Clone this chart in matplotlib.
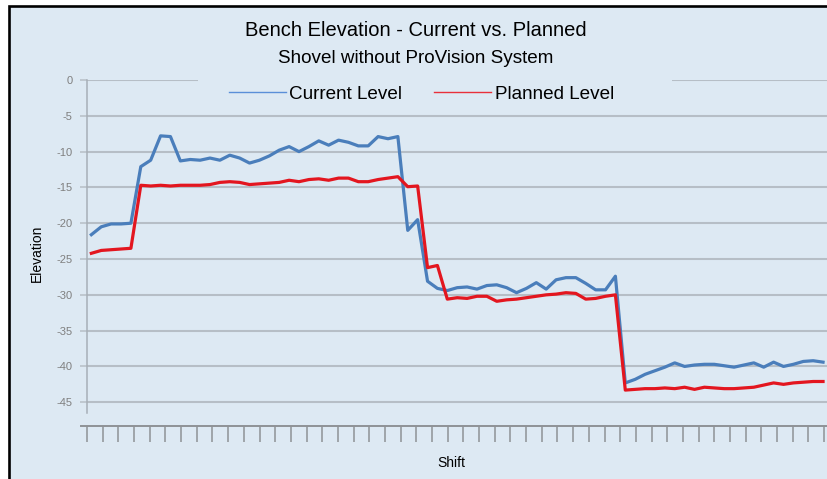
import numpy as np
import matplotlib
matplotlib.use("Agg")
import matplotlib.pyplot as plt
from matplotlib.lines import Line2D
from matplotlib.patches import Rectangle

# ── Datos ────────────────────────────────────────────────────────────────────
current_level = [
    -21.6, -20.5, -20.1, -20.1, -20.0, -12.1, -11.2, -7.8, -7.9, -11.3,
    -11.1, -11.2, -10.9, -11.2, -10.5, -10.9, -11.6, -11.2, -10.6, -9.8,
    -9.3, -10.0, -9.3, -8.5, -9.1, -8.4, -8.7, -9.2, -9.2, -7.9,
    -8.2, -7.9, -21.0, -19.5, -28.1, -29.1, -29.4, -29.0, -28.9, -29.2,
    -28.7, -28.6, -29.0, -29.7, -29.1, -28.3, -29.2, -27.9, -27.6, -27.6,
    -28.4, -29.3, -29.3, -27.4, -42.3, -41.8, -41.1, -40.6, -40.1, -39.5,
    -40.0, -39.8, -39.7, -39.7, -39.9, -40.1, -39.8, -39.5, -40.1, -39.4,
    -40.0, -39.7, -39.3, -39.2, -39.4,
]
planned_level = [
    -24.2, -23.8, -23.7, -23.6, -23.5, -14.7, -14.8, -14.7, -14.8, -14.7,
    -14.7, -14.7, -14.6, -14.3, -14.2, -14.3, -14.6, -14.5, -14.4, -14.3,
    -14.0, -14.2, -13.9, -13.8, -14.0, -13.7, -13.7, -14.2, -14.2, -13.9,
    -13.7, -13.5, -14.9, -14.8, -26.2, -25.9, -30.6, -30.4, -30.5, -30.2,
    -30.2, -30.9, -30.7, -30.6, -30.4, -30.2, -30.0, -29.9, -29.7, -29.8,
    -30.6, -30.5, -30.2, -30.0, -43.3, -43.2, -43.1, -43.1, -43.0, -43.1,
    -42.9, -43.2, -42.9, -43.0, -43.1, -43.1, -43.0, -42.9, -42.6, -42.3,
    -42.5, -42.3, -42.2, -42.1, -42.1,
]
y_ticks = [0, -5, -10, -15, -20, -25, -30, -35, -40, -45]

TITLE = "Bench Elevation - Current vs. Planned"
SUBTITLE = "Shovel without ProVision System"

# ── Estilo ───────────────────────────────────────────────────────────────────
W, H = 827, 479
BG = "#dde9f3"
GRID = "#b6bec6"
AXIS = "#8e9296"
BLUE = "#4a7ebb"
RED = "#e3161f"
plt.rcParams["font.family"] = ["Liberation Sans", "DejaVu Sans"]


def fx(px):
    return px / W


def fy(py):
    return 1 - py / H


fig = plt.figure(figsize=(W / 100, H / 100), dpi=100, facecolor="white")

# marco negro con fondo azul claro (recortado a la derecha y abajo)
fig.patches.append(Rectangle((fx(9), fy(H + 20)), fx(W + 20), fy(6) - fy(H + 20),
                             transform=fig.transFigure, facecolor=BG,
                             edgecolor="black", linewidth=1.9, zorder=-5))

ax = fig.add_axes([fx(87), fy(413), 1 - fx(87), fy(80) - fy(413)])
ax.set_facecolor("none")

x = np.arange(len(current_level))
ax.plot(x, current_level, color=BLUE, lw=2.3, solid_joinstyle="round", zorder=3)
ax.plot(x, planned_level, color=RED, lw=2.3, solid_joinstyle="round", zorder=3)

ax.set_xlim(-0.343, 74.4)
ax.set_ylim(-46.5, 0)

ax.set_yticks(y_ticks)
ax.set_yticklabels([str(v) for v in y_ticks])
ax.tick_params(axis="y", direction="out", length=5, width=1.1, color=GRID,
               labelsize=8, labelcolor="#7f7f7f", pad=5.5)
ax.grid(axis="y", color=GRID, lw=1.5, zorder=1)

ax.set_xticks(np.arange(-0.44, 74.5, 1.586))
ax.set_xticklabels([])
ax.tick_params(axis="x", direction="out", length=11.5, width=1.1, color=AXIS)

for s in ("top", "right"):
    ax.spines[s].set_visible(False)
ax.spines["left"].set_color("#a7afb7")
ax.spines["left"].set_linewidth(1.1)
ax.spines["bottom"].set_position(("outward", 9.4))
ax.spines["bottom"].set_color(AXIS)
ax.spines["bottom"].set_linewidth(1.4)
ax.spines["bottom"].set_bounds(-1.05, 74.4)

# la caja del título/leyenda tapa la línea del 0
fig.patches.append(Rectangle((fx(198), fy(86)), fx(672 - 198), fy(74) - fy(86),
                             transform=fig.transFigure, facecolor=BG,
                             edgecolor="none", zorder=2))

fig.text(fx(416), fy(36.5), TITLE, ha="center", va="baseline", fontsize=14.5)
fig.text(fx(416), fy(62.5), SUBTITLE, ha="center", va="baseline", fontsize=13.6)
fig.text(fx(36.5), fy(253), "Elevation", rotation=90, ha="center", va="center",
         fontsize=10)
fig.text(fx(451), fy(463), "Shift", ha="center", va="center", fontsize=10)

handles = [Line2D([], [], color="#5a8fd8", lw=1.0),
           Line2D([], [], color="#e8303a", lw=1.0)]
leg = fig.legend(handles, ["Current Level", "Planned Level"], ncol=2,
                 loc="center", bbox_to_anchor=(fx(421.5), fy(94)),
                 fontsize=13.6, frameon=False, handlelength=3.0,
                 handletextpad=0.2, columnspacing=1.7, borderaxespad=0)
leg.set_zorder(4)

fig.savefig("out.png", dpi=100, facecolor="white")
